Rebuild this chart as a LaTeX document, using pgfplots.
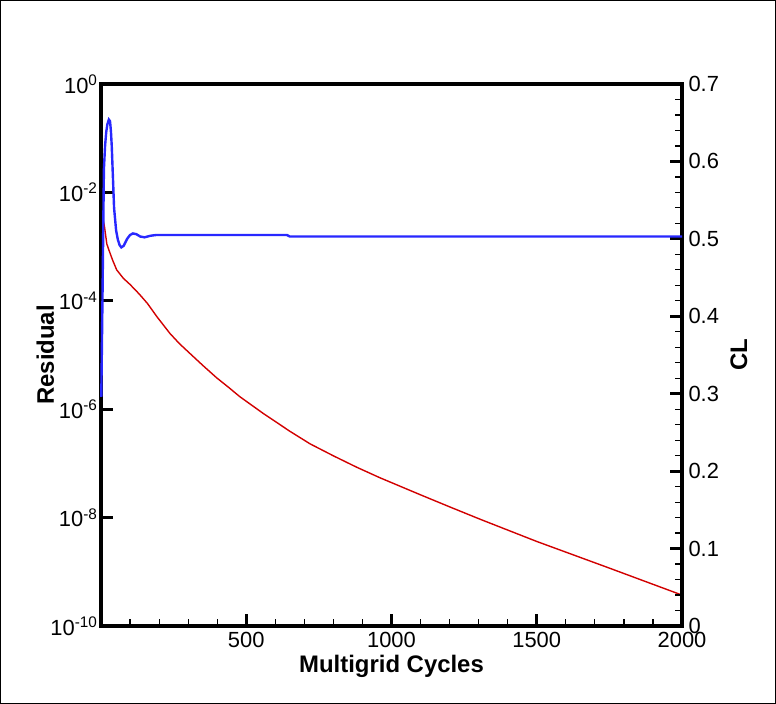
\documentclass[border=0pt]{standalone}
\usepackage{fontspec}
\setmainfont{Liberation Sans}
\usepackage{pgfplots}
\pgfplotsset{compat=1.18}
\definecolor{resred}{RGB}{210,0,0}
\definecolor{clblue}{RGB}{40,40,255}

\pgfplotsset{
  common/.style={
    at={(101bp,78bp)}, anchor=south west,
    width=581bp, height=542bp, scale only axis,
    xmin=0, xmax=2000,
    tick align=inside,
    major tick length=12bp, minor tick length=7bp,
    every major tick/.append style={line width=3bp, black},
    every minor tick/.append style={line width=1.2bp, black},
    tick label style={font=\fontsize{22}{25}\selectfont},
    /pgf/number format/assume math mode=true,
    /pgf/number format/1000 sep={},
    label style={font=\bfseries\fontsize{24}{28}\selectfont},
    axis line style={line width=3.5bp, black},
    clip=false,
  }
}

\begin{document}
\begin{tikzpicture}
\useasboundingbox (0,0) rectangle (776bp,704bp);
\draw[line width=1bp] (0.5bp,0.5bp) rectangle (775.5bp,703.5bp);

% residual, left log axis
\begin{axis}[common,
  ymode=log, ymin=1e-10, ymax=1,
  ytick={1e-10,1e-8,1e-6,1e-4,1e-2,1},
  yticklabels={10\textsuperscript{-10},10\textsuperscript{-8},10\textsuperscript{-6},10\textsuperscript{-4},10\textsuperscript{-2},10\textsuperscript{0}},
  yminorticks=false,
  xtick={0,500,1000,1500,2000},
  xticklabels={,500,1000,1500,2000},
  minor x tick num=4,
  xtick pos=bottom, ytick pos=left,
  xticklabel style={yshift=-3bp},
  xlabel={Multigrid Cycles}, ylabel={Residual},
  xlabel style={at={(axis description cs:0.5,-0.074)}, anchor=center},
  ylabel style={at={(axis description cs:-0.096,0.5)}, anchor=center},
  after end axis/.code={
    \draw[line width=3.5bp, black, line cap=rect] (rel axis cs:0,0) rectangle (rel axis cs:1,1);
  },
]
\addplot[resred, line width=1.4bp] coordinates {
  (1,1.95e-2) (4,3.80e-3) (12,2.34e-3) (20,1.12e-3) (27,8.71e-4)
  (40,5.62e-4) (54,3.72e-4) (77,2.60e-4) (100,2.00e-4) (120,1.55e-4)
  (134,1.29e-4) (160,8.91e-5) (192,5.13e-5) (237,2.51e-5) (270,1.62e-5)
  (306,1.07e-5) (350,6.46e-6) (398,3.80e-6) (440,2.51e-6) (478,1.70e-6)
  (559,8.32e-7) (651,3.89e-7) (720,2.29e-7) (800,1.38e-7) (880,8.51e-8)
  (960,5.44e-8) (1100,2.63e-8) (1200,1.58e-8) (1305,9.33e-9) (1500,3.63e-9)
  (1750,1.17e-9) (2000,3.72e-10)
};
\end{axis}

% lift coefficient, right linear axis
\begin{axis}[common,
  ymin=0, ymax=0.7,
  axis x line=none, axis y line*=right,
  ytick={0,0.1,0.2,0.3,0.4,0.5,0.6,0.7},
  minor y tick num=4,
  yticklabel style={xshift=3bp},
  ylabel={CL},
  ylabel style={at={(axis description cs:1.098,0.5)}, anchor=center},
]
\addplot[clblue, line width=2.4bp] coordinates {
  (1,0.296) (5,0.42) (10,0.59) (14,0.62) (18,0.638) (22,0.648)
  (27,0.654) (31,0.652) (34,0.640) (37,0.62) (40,0.59) (45,0.54)
  (52,0.511) (58,0.499) (64,0.492) (70,0.489) (78,0.491) (90,0.500)
  (100,0.505) (110,0.507) (122,0.506) (135,0.503) (150,0.502)
  (170,0.504) (190,0.505) (300,0.505) (640,0.505) (650,0.503) (2000,0.503)
};
\end{axis}
\end{tikzpicture}
\end{document}
